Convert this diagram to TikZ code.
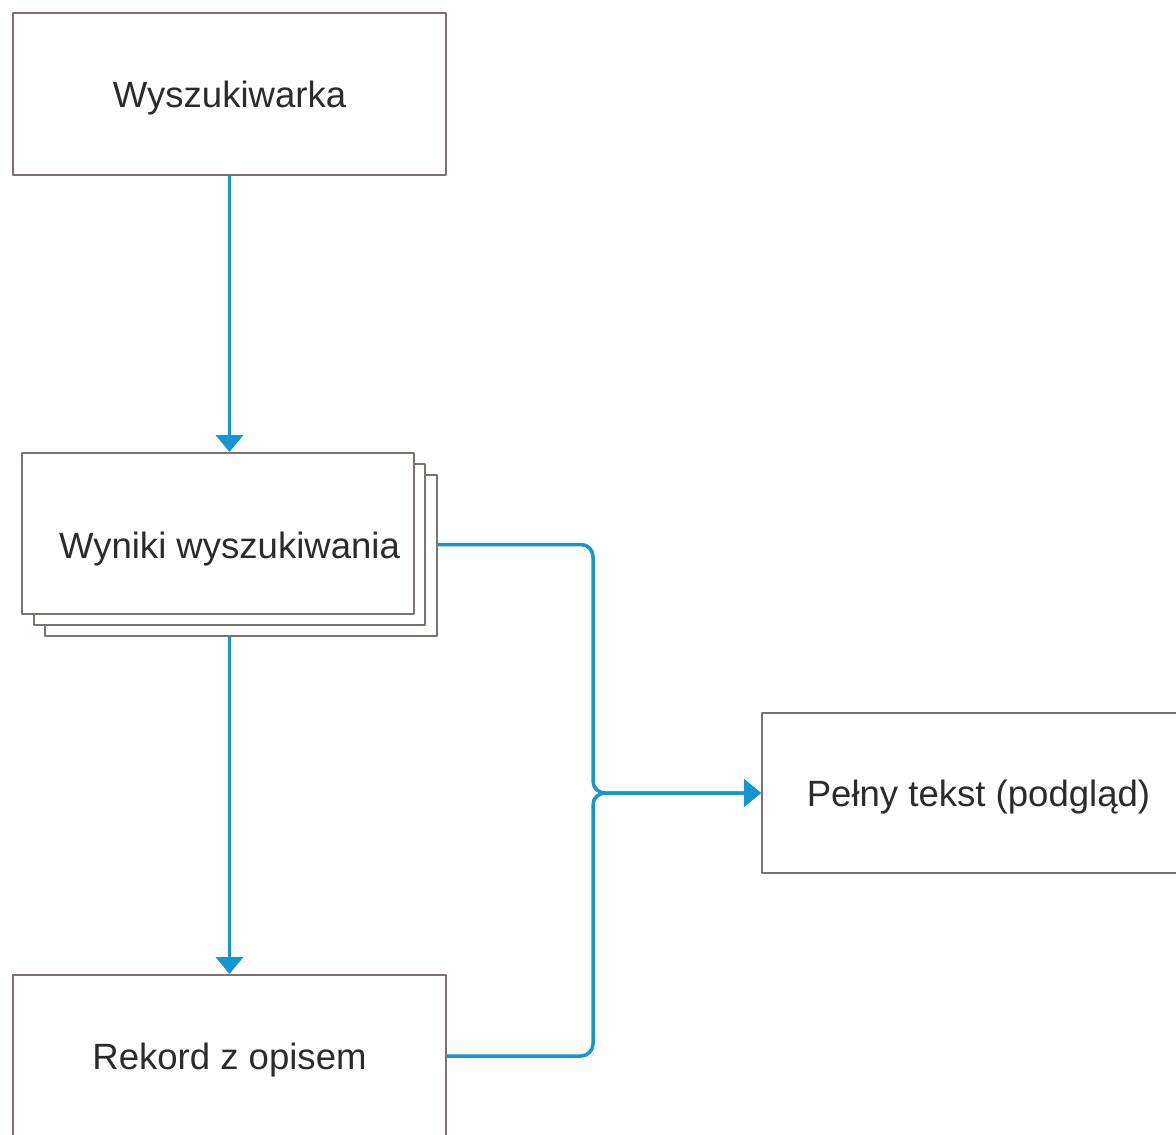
\documentclass[tikz,border=0pt]{standalone}
\usepackage{fontspec}
\setmainfont{Liberation Sans}
\usetikzlibrary{arrows.meta,shadows}
\definecolor{ramka}{RGB}{125,115,110}
\definecolor{niebieski}{RGB}{20,150,210}
\definecolor{tekst}{RGB}{45,42,42}
\begin{document}
\begin{tikzpicture}[x=0.02cm, y=-0.02cm, line join=round,
	font=\fontsize{20.8}{25}\selectfont,
	box/.style={draw=ramka, line width=1.1pt, fill=white, text=tekst, rectangle, minimum width=8.66cm, minimum height=3.24cm, inner sep=0pt, text height=0.7cm, text depth=0.16cm},
	conn/.style={draw=niebieski, line width=2pt, -{Triangle[width=0.54cm,length=0.34cm]}}]
	\useasboundingbox (0,0) rectangle (1176,1134);
	\def\dx{0.23cm} \def\dy{0.22cm}
	\node[box] (wyszukiwarka) at (229.5,94) {Wyszukiwarka};
	\node[box, minimum width=7.84cm, minimum height=3.22cm, text height=1.14cm,
		double copy shadow={shadow xshift=\dx, shadow yshift=-\dy, draw=ramka, fill=white, line width=1.1pt}]
		(wyniki) at (218,533.5) {\hspace*{0.46cm}Wyniki wyszukiwania};
	\node[box, minimum height=3.2cm] (pelny) at (978.5,793) {Pełny tekst (podgląd)};
	\node[box] (rekord) at (229.5,1056) {Rekord z opisem};
	% punkty pomocnicze
	\coordinate (wp) at ([xshift=2*\dx, yshift=-\dy]wyniki.east);
	\coordinate (wd) at ([yshift=-2*\dy]wyniki.south);
	\coordinate (szyna) at (593,0);
	\draw[conn] (wyszukiwarka.south) -- (wyszukiwarka.south |- wyniki.north);
	\draw[conn] (rekord.north |- wd) -- (rekord.north);
	\draw[conn, rounded corners=0.24cm] (wp) -- (wp -| szyna) -- (szyna |- pelny.west) -- (pelny.west);
	\draw[conn, rounded corners=0.24cm] (rekord.east) -- (rekord.east -| szyna) -- (szyna |- pelny.west) -- (pelny.west);
\end{tikzpicture}
\end{document}
